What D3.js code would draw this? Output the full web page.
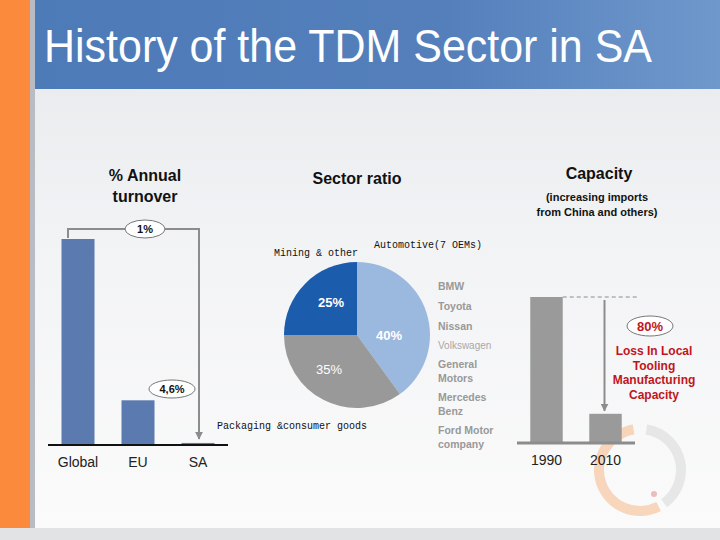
<!DOCTYPE html>
<html>
<head>
<meta charset="utf-8">
<script src="https://cdn.jsdelivr.net/npm/d3@7"></script>
<style>
  body { margin: 0; padding: 0; }
  svg { display: block; font-family: "Liberation Sans", Arial, sans-serif; }
</style>
</head>
<body>
<svg id="chart" width="720" height="540"></svg>
<script>
// left chart: share of annual turnover
var turnoverCats = ["Global", "EU", "SA"];
var turnoverVals = [100, 21.7, 1];
var turnoverNotes = ["1%", "4,6%"];

// middle chart: sector ratio
var sectorNames = ["Automotive(7 OEMs)", "Packaging &consumer goods", "Mining & other"];
var sectorVals = [40, 35, 25];
var oemNames = ["BMW", "Toyota", "Nissan", "Volkswagen", "General|Motors", "Mercedes|Benz", "Ford Motor|company"];

// right chart: capacity
var capacityYears = ["1990", "2010"];
var capacityVals = [100, 20];
var capacityNote = "80%";
var lossLines = ["Loss In Local", "Tooling", "Manufacturing", "Capacity"];

var svg = d3.select("#chart");
var defs = svg.append("defs");

var bg = defs.append("linearGradient").attr("id", "bg")
  .attr("x1", 0).attr("y1", 0).attr("x2", 0).attr("y2", 1);
bg.append("stop").attr("offset", "0%").attr("stop-color", "#e6e8eb");
bg.append("stop").attr("offset", "45%").attr("stop-color", "#f2f3f5");
bg.append("stop").attr("offset", "100%").attr("stop-color", "#fbfbfb");

var hd = defs.append("linearGradient").attr("id", "hd")
  .attr("x1", 0).attr("y1", 0).attr("x2", 1).attr("y2", 0);
hd.append("stop").attr("offset", "0%").attr("stop-color", "#4d7bb8");
hd.append("stop").attr("offset", "60%").attr("stop-color", "#547fbb");
hd.append("stop").attr("offset", "100%").attr("stop-color", "#6f98cc");

defs.append("marker").attr("id", "arr")
  .attr("viewBox", "0 0 10 10").attr("refX", 9).attr("refY", 5)
  .attr("markerWidth", 4).attr("markerHeight", 4).attr("orient", "auto")
  .append("path").attr("d", "M0,0L10,5L0,10z").attr("fill", "#8c8c8c");

// background
svg.append("rect").attr("width", 720).attr("height", 540).attr("fill", "url(#bg)");
svg.append("rect").attr("x", 30).attr("width", 690).attr("height", 89).attr("fill", "url(#hd)");
svg.append("rect").attr("width", 30).attr("height", 528).attr("fill", "#fb8a3c");
svg.append("rect").attr("x", 30).attr("width", 5).attr("height", 528).attr("fill", "#b9bcc2");
svg.append("rect").attr("y", 528).attr("width", 720).attr("height", 12).attr("fill", "#e2e3e5");

// faint logo rings
var logo = d3.arc().innerRadius(36).outerRadius(46);
var gl = svg.append("g").attr("transform", "translate(640,470)").attr("opacity", 0.55);
gl.append("path").attr("d", logo({ startAngle: Math.PI * 0.85, endAngle: Math.PI * 1.95 }))
  .attr("fill", "#f7b98a");
gl.append("path").attr("d", logo({ startAngle: Math.PI * 0.05, endAngle: Math.PI * 0.8 }))
  .attr("fill", "#d9d9d9");
gl.append("circle").attr("cx", 14).attr("cy", 24).attr("r", 3).attr("fill", "#e58a8a");

svg.append("text").attr("x", 44).attr("y", 62)
  .attr("font-size", 46).attr("fill", "#ffffff")
  .attr("textLength", 608).attr("lengthAdjust", "spacingAndGlyphs")
  .text("History of the TDM Sector in SA");

// ---------- left: annual turnover ----------
var x1 = d3.scaleBand().domain(turnoverCats).range([48, 228])
  .paddingInner(0.45).paddingOuter(0.225);
var y1 = d3.scaleLinear().domain([0, 100]).range([445, 239]);

var g1 = svg.append("g");
g1.append("text").attr("text-anchor", "middle").attr("font-weight", "bold")
  .attr("font-size", 16).attr("fill", "#111")
  .selectAll("tspan").data(["% Annual", "turnover"]).join("tspan")
  .attr("x", 145).attr("y", function(d, i) { return 181 + i * 21; })
  .text(function(d) { return d; });

g1.selectAll("rect.bar").data(turnoverVals).join("rect")
  .attr("class", "bar")
  .attr("x", function(d, i) { return x1(turnoverCats[i]); })
  .attr("y", function(d) { return y1(d); })
  .attr("width", x1.bandwidth())
  .attr("height", function(d) { return y1(0) - y1(d); })
  .attr("fill", "#5b7bb0");

g1.append("line").attr("x1", 48).attr("x2", 228).attr("y1", y1(0)).attr("y2", y1(0))
  .attr("stroke", "#111").attr("stroke-width", 2);

g1.selectAll("text.cat").data(turnoverCats).join("text")
  .attr("class", "cat")
  .attr("x", function(d) { return x1(d) + x1.bandwidth() / 2; })
  .attr("y", 467).attr("text-anchor", "middle")
  .attr("font-size", 14).attr("fill", "#222")
  .text(function(d) { return d; });

var gx = x1("Global") + x1.bandwidth() / 2 - 10;
var sx = x1("SA") + x1.bandwidth() / 2 + 1;
g1.append("path")
  .attr("d", "M" + gx + "," + (y1(100) - 1) + "V229H" + sx + "V" + (y1(1) - 4))
  .attr("fill", "none").attr("stroke", "#8c8c8c").attr("stroke-width", 2)
  .attr("marker-end", "url(#arr)");

var notes1 = [{ x: 145, y: 229, rx: 20 }, { x: 172, y: 389, rx: 23 }];
notes1.forEach(function(n, i) {
  g1.append("ellipse").attr("cx", n.x).attr("cy", n.y).attr("rx", n.rx).attr("ry", 9)
    .attr("fill", "#ffffff").attr("stroke", "#777").attr("stroke-width", 1);
  g1.append("text").attr("x", n.x).attr("y", n.y + 4).attr("text-anchor", "middle")
    .attr("font-size", 11).attr("font-weight", "bold").attr("fill", "#111")
    .text(turnoverNotes[i]);
});

// ---------- middle: sector ratio ----------
var cx = 357, cy = 335, r = 73;
var g2 = svg.append("g");
g2.append("text").attr("x", 357).attr("y", 184).attr("text-anchor", "middle")
  .attr("font-size", 16).attr("font-weight", "bold").attr("fill", "#111")
  .text("Sector ratio");

var pieColors = ["#9bb8df", "#999999", "#1b5cad"];
var arcs = d3.pie().sort(null)(sectorVals);
var arc = d3.arc().innerRadius(0).outerRadius(r);
var gp = g2.append("g").attr("transform", "translate(" + cx + "," + cy + ")");
gp.selectAll("path").data(arcs).join("path")
  .attr("d", arc)
  .attr("fill", function(d, i) { return pieColors[i]; });

var pctPos = [[32, 0], [-28, 34], [-26, -33]];
gp.selectAll("text").data(arcs).join("text")
  .attr("x", function(d, i) { return pctPos[i][0]; })
  .attr("y", function(d, i) { return pctPos[i][1] + 5; })
  .attr("text-anchor", "middle").attr("font-size", 13)
  .attr("font-weight", function(d, i) { return i === 1 ? "normal" : "bold"; })
  .attr("fill", "#ffffff")
  .text(function(d) { return d.value + "%"; });

var sectorPos = [[374, 248, "start"], [217, 429, "start"], [316, 256, "middle"]];
g2.selectAll("text.sec").data(sectorNames).join("text")
  .attr("class", "sec")
  .attr("x", function(d, i) { return sectorPos[i][0]; })
  .attr("y", function(d, i) { return sectorPos[i][1]; })
  .attr("text-anchor", function(d, i) { return sectorPos[i][2]; })
  .attr("font-family", "Liberation Mono, monospace").attr("font-size", 10)
  .attr("fill", "#111")
  .text(function(d) { return d; });

var oemY = [290, 310, 330, 349, 368, 401, 434];
oemNames.forEach(function(name, i) {
  var vw = name === "Volkswagen";
  g2.append("text").attr("x", 438).attr("font-size", vw ? 10 : 10.5)
    .attr("font-weight", vw ? "normal" : "bold")
    .attr("fill", vw ? "#a8a8a8" : "#999999")
    .selectAll("tspan").data(name.split("|")).join("tspan")
    .attr("x", 438).attr("y", function(d, j) { return oemY[i] + j * 14; })
    .text(function(d) { return d; });
});

// ---------- right: capacity ----------
var x3 = d3.scaleBand().domain(capacityYears).range([517, 635])
  .paddingInner(0.45).paddingOuter(0.225);
var y3 = d3.scaleLinear().domain([0, 100]).range([443, 297]);
var g3 = svg.append("g");

g3.append("text").attr("x", 599).attr("y", 179).attr("text-anchor", "middle")
  .attr("font-size", 16).attr("font-weight", "bold").attr("fill", "#111")
  .text("Capacity");
g3.append("text").attr("text-anchor", "middle").attr("font-size", 11)
  .attr("font-weight", "bold").attr("fill", "#111")
  .selectAll("tspan").data(["(increasing imports", "from China and others)"]).join("tspan")
  .attr("x", 597).attr("y", function(d, i) { return 201 + i * 15; })
  .text(function(d) { return d; });

g3.selectAll("rect.bar").data(capacityVals).join("rect")
  .attr("class", "bar")
  .attr("x", function(d, i) { return x3(capacityYears[i]); })
  .attr("y", function(d) { return y3(d); })
  .attr("width", x3.bandwidth())
  .attr("height", function(d) { return y3(0) - y3(d); })
  .attr("fill", "#9a9a9a");

g3.append("line").attr("x1", 517).attr("x2", 635).attr("y1", y3(0)).attr("y2", y3(0))
  .attr("stroke", "#8c8c8c").attr("stroke-width", 3);

g3.selectAll("text.cat").data(capacityYears).join("text")
  .attr("class", "cat")
  .attr("x", function(d) { return x3(d) + x3.bandwidth() / 2; })
  .attr("y", 465).attr("text-anchor", "middle")
  .attr("font-size", 14).attr("fill", "#222")
  .text(function(d) { return d; });

var bx = x3("1990") + x3.bandwidth();
g3.append("line").attr("x1", bx).attr("x2", 637).attr("y1", y3(100)).attr("y2", y3(100))
  .attr("stroke", "#8c8c8c").attr("stroke-width", 1).attr("stroke-dasharray", "4,3");
var ax = x3("2010") + x3.bandwidth() / 2 - 1;
g3.append("line").attr("x1", ax).attr("x2", ax).attr("y1", y3(100) + 3).attr("y2", y3(20) - 3)
  .attr("stroke", "#8c8c8c").attr("stroke-width", 2).attr("marker-end", "url(#arr)");

g3.append("ellipse").attr("cx", 650).attr("cy", 326).attr("rx", 23).attr("ry", 10)
  .attr("fill", "#ffffff").attr("stroke", "#777").attr("stroke-width", 1);
g3.append("text").attr("x", 650).attr("y", 331).attr("text-anchor", "middle")
  .attr("font-size", 13).attr("font-weight", "bold").attr("fill", "#c0151c")
  .text(capacityNote);
g3.append("text").attr("text-anchor", "middle").attr("font-size", 12)
  .attr("font-weight", "bold").attr("fill", "#c0151c")
  .selectAll("tspan").data(lossLines).join("tspan")
  .attr("x", 654).attr("y", function(d, i) { return 355 + i * 14.5; })
  .text(function(d) { return d; });
</script>
</body>
</html>
